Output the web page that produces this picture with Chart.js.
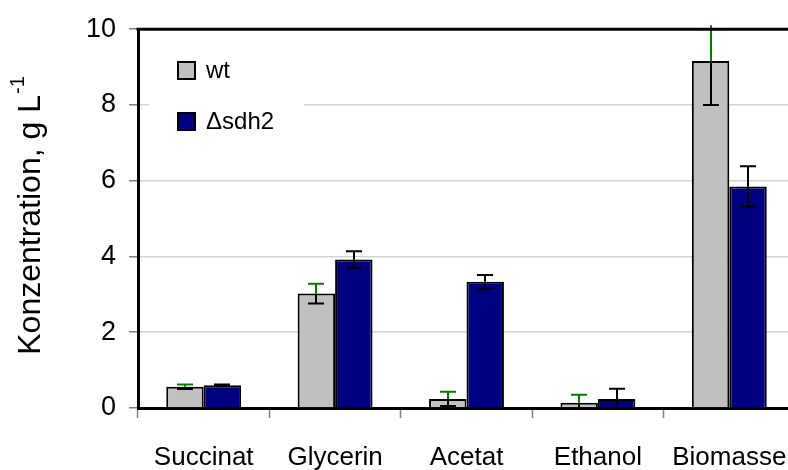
<!DOCTYPE html>
<html>
<head>
<meta charset="utf-8">
<script src="https://cdn.jsdelivr.net/npm/chart.js@4.4.1/dist/chart.umd.min.js"></script>
<style>
  html, body { margin: 0; padding: 0; overflow: hidden; background: #fff; }
  #myChart { display: block; }
</style>
</head>
<body>
<canvas id="myChart" width="800" height="470"></canvas>
<script>
const categories = ['Succinat', 'Glycerin', 'Acetat', 'Ethanol', 'Biomasse'];
const wtValues = [0.56, 3.02, 0.24, 0.14, 9.16];
const wtErrors = [0.06, 0.26, 0.19, 0.21, 1.16];
const sdhValues = [0.60, 3.92, 3.33, 0.24, 5.85];
const sdhErrors = [0.02, 0.22, 0.18, 0.27, 0.53];
const yTicks = [0, 2, 4, 6, 8, 10];

const FONT = '"Liberation Sans", Arial, sans-serif';

// error bars: upper half in errorUpColor, lower half black
const errorBars = {
    id: 'errorBars',
    afterDatasetsDraw(chart) {
        const ctx = chart.ctx, ys = chart.scales.y, area = chart.chartArea;
        chart.data.datasets.forEach((ds, di) => {
            const meta = chart.getDatasetMeta(di);
            meta.data.forEach((bar, i) => {
                const v = ds.data[i], e = ds.errors[i];
                const x = Math.round(bar.x);
                const yMid = ys.getPixelForValue(v);
                const upRaw = ys.getPixelForValue(v + e);
                const downRaw = ys.getPixelForValue(v - e);
                const yUp = Math.max(upRaw, area.top - 4);
                const yDown = Math.min(downRaw, area.bottom);
                ctx.save();
                ctx.lineWidth = 2;
                // lower part
                ctx.strokeStyle = '#000';
                ctx.beginPath();
                ctx.moveTo(x, yMid); ctx.lineTo(x, yDown);
                if (downRaw < area.bottom) { ctx.moveTo(x - 8, yDown); ctx.lineTo(x + 8, yDown); }
                ctx.stroke();
                // upper part
                ctx.strokeStyle = ds.errorUpColor;
                ctx.beginPath();
                ctx.moveTo(x, yMid); ctx.lineTo(x, yUp);
                if (upRaw > area.top - 4) { ctx.moveTo(x - 8, yUp); ctx.lineTo(x + 8, yUp); }
                ctx.stroke();
                ctx.restore();
            });
        });
    }
};

// legend box inside the plot
const boxLegend = {
    id: 'boxLegend',
    beforeDatasetsDraw(chart) {
        const ctx = chart.ctx;
        ctx.save();
        ctx.fillStyle = '#fff';
        ctx.fillRect(149, 45, 155, 100);
        chart.data.datasets.forEach((ds, i) => {
            const top = 62 + i * 51;
            ctx.fillStyle = ds.backgroundColor;
            ctx.fillRect(178, top, 17, 17);
            ctx.lineWidth = 2;
            ctx.strokeStyle = '#000';
            ctx.strokeRect(178, top, 17, 17);
            ctx.fillStyle = '#000';
            ctx.font = '24px ' + FONT;
            ctx.textBaseline = 'middle';
            ctx.fillText(ds.label, 206, top + 9);
        });
        ctx.restore();
    }
};

// top frame line + rotated y title with superscript
const frameAndTitle = {
    id: 'frameAndTitle',
    afterDraw(chart) {
        const ctx = chart.ctx, area = chart.chartArea;
        ctx.save();
        ctx.strokeStyle = '#000';
        ctx.lineWidth = 3;
        ctx.beginPath();
        ctx.moveTo(area.left - 1.5, area.top);
        ctx.lineTo(chart.width, area.top);
        ctx.stroke();

        ctx.translate(31, 216);
        ctx.rotate(-Math.PI / 2);
        ctx.fillStyle = '#000';
        ctx.textBaseline = 'middle';
        const main = 'Konzentration, g L';
        const sup = '-1';
        ctx.font = '32px ' + FONT;
        const w1 = ctx.measureText(main).width;
        ctx.font = '20px ' + FONT;
        const w2 = ctx.measureText(sup).width;
        const start = -(w1 + w2) / 2;
        ctx.font = '32px ' + FONT;
        ctx.fillText(main, start, 0);
        ctx.font = '20px ' + FONT;
        ctx.fillText(sup, start + w1 + 1, -13);
        ctx.restore();
    }
};

const ctx = document.getElementById('myChart').getContext('2d');
const myChart = new Chart(ctx, {
    type: 'bar',
    data: {
        labels: categories,
        datasets: [{
            label: 'wt',
            data: wtValues,
            errors: wtErrors,
            errorUpColor: '#008000',
            backgroundColor: '#c0c0c0',
            borderColor: '#000',
            borderWidth: 2
        }, {
            label: '\u0394sdh2',
            data: sdhValues,
            errors: sdhErrors,
            errorUpColor: '#000',
            backgroundColor: '#000080',
            borderColor: '#000',
            borderWidth: 2
        }]
    },
    options: {
        responsive: false,
        animation: false,
        devicePixelRatio: 1,
        layout: { padding: { top: 26, right: 5, left: 0, bottom: 0 } },
        datasets: { bar: { barPercentage: 1.0, categoryPercentage: 0.57 } },
        plugins: {
            legend: { display: false },
            tooltip: { enabled: false }
        },
        scales: {
            x: {
                grid: { drawOnChartArea: false, offset: true, tickLength: 10, tickColor: '#808080', tickWidth: 1.5 },
                border: { color: '#000', width: 3 },
                ticks: { color: '#000', font: { family: FONT, size: 26 }, padding: 24, maxRotation: 0, autoSkip: false },
                afterFit: s => { s.height = 62; s.paddingLeft = 0; s.paddingRight = 0; }
            },
            y: {
                min: 0,
                max: 10,
                afterBuildTicks: s => { s.ticks = yTicks.map(v => ({ value: v })); },
                ticks: { color: '#000', font: { family: FONT, size: 27 }, padding: 13 },
                grid: {
                    color: c => (c.tick && (c.tick.value === 0 || c.tick.value === 10)) ? 'rgba(0,0,0,0)' : '#d4d4d4',
                    lineWidth: 1.5,
                    tickColor: '#808080',
                    tickLength: 9,
                    tickWidth: 1.5
                },
                border: { color: '#000', width: 3 },
                afterFit: s => { s.width = 138; }
            }
        }
    },
    plugins: [errorBars, boxLegend, frameAndTitle]
});
</script>
</body>
</html>
